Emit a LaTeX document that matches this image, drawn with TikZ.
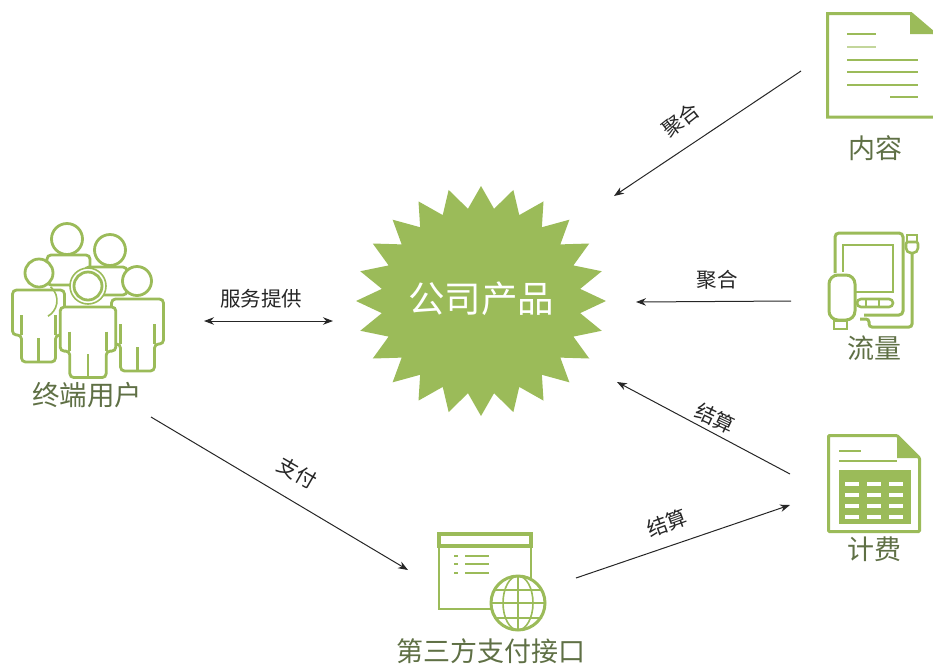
\documentclass[tikz,border=0pt]{standalone}
\usepackage{fontspec}
\setmainfont{Noto Sans CJK SC}
\usetikzlibrary{arrows.meta}
\definecolor{leaf}{HTML}{9BBB59}
\definecolor{leaftext}{HTML}{5F7045}
\tikzset{
    link/.style={-{Stealth[length=10pt,width=7.5pt]}, line width=1pt, black!85},
    linklabel/.style={font=\fontsize{20.5}{21}\selectfont, text=black!85},
    iconlabel/.style={font=\fontsize{27}{28}\selectfont, text=leaftext},
    icon/.style={draw=leaf, line width=3pt},
    thinicon/.style={draw=leaf, line width=1.8pt},
    midicon/.style={draw=leaf, line width=2.6pt},
    personline/.style={draw=leaf, line width=2.8pt},
    person/.pic={
        \filldraw[personline, fill=white, rounded corners=4pt]
            (-26,0) -- (-26,45) -- (-17,45) -- (-17,72) -- (17,72) -- (17,45) -- (26,45) -- (26,0) -- cycle;
        \draw[personline] (-17,25) -- (-17,45) (17,25) -- (17,45) (0,48) -- (0,72);
    },
}
\begin{document}
\begin{tikzpicture}[x=1pt, y=-1pt]
    \useasboundingbox (0,0) rectangle (933,665);

    % Product star
    \fill[leaf] (606,301)
        \foreach \a in {7.5,22.5,...,352.5} {
            -- ({481+100*cos(\a)},{301-93*sin(\a)})
            -- ({481+125*cos(\a+7.5)},{301-115*sin(\a+7.5)})
        } -- cycle;
    \node[text=white, font=\fontsize{36.5}{37}\selectfont] (product) at (481,299) {公司产品};

    % End users
    \filldraw[personline, fill=white, rounded corners=4pt]
        (47,255) -- (47,285) -- (90,285) -- (90,255) -- cycle;
    \filldraw[personline, fill=white] (67,239) circle (15.5);
    \filldraw[personline, fill=white, rounded corners=4pt]
        (85,267) -- (85,295) -- (127,295) -- (127,267) -- cycle;
    \filldraw[personline, fill=white] (110,250) circle (15.5);
    \pic at (38.5,290) {person};
    \filldraw[personline, fill=white] (39,273) circle (14);
    \draw[leaf, line width=1.6pt] (39,273) ++(50:18) arc[start angle=-50, end angle=60, radius=18];
    \pic at (137.5,299) {person};
    \filldraw[personline, fill=white] (137,281) circle (14.5);
    \pic[xscale=1.07, yscale=0.98] at (88,307) {person};
    \filldraw[draw=leaf, line width=1.6pt, fill=white] (88,286) circle (18);
    \filldraw[personline, fill=white] (88,286) circle (14);
    \node[iconlabel, font=\fontsize{27.5}{28}\selectfont] (users) at (87,395) {终端用户};

    % Content document
    \draw[icon] (935,36) -- (935,117) -- (827.5,117) -- (827.5,13.5) -- (911,13.5) -- (935,34);
    \fill[leaf] (910,13) -- (935,34) -- (910,34) -- cycle;
    \foreach \y/\xa/\xb/\op in {34/847/876/1, 47/847/876/0.6, 60/847/918/1, 72/847/918/1, 85/847/918/1, 97/890/918/1}
        \draw[leaf, line width=2.4pt, opacity=\op] (\xa,\y) -- (\xb,\y);
    \node[iconlabel] (content) at (875,148) {内容};

    % Traffic device
    \draw[icon, rounded corners=4pt] (835,273) -- (835,233) -- (903,233) -- (903,315) -- (864,315);
    \draw[midicon] (843,272) -- (843,245) -- (893,245) -- (893,292) -- (856,292);
    \draw[midicon, rounded corners=4pt] (857,299) rectangle (893,307);
    \draw[midicon] (866,299) -- (866,307) (879,299) -- (879,307);
    \draw[icon, rounded corners=3pt] (912,252) -- (912,327) -- (869,327) -- (869,319) -- (860,319);
    \draw[midicon] (907,235) rectangle (917,242);
    \filldraw[midicon, fill=white, rounded corners=2pt] (906,242) -- (906,250) -- (909,253) -- (915,253) -- (918,250) -- (918,242) -- cycle;
    \filldraw[icon, fill=white, rounded corners=9pt] (829,320) -- (829,275) -- (855,275) -- (855,320) -- cycle;
    \draw[midicon] (834,321) rectangle (847,329);
    \node[iconlabel] (traffic) at (874,348) {流量};

    % Billing sheet
    \draw[icon, rounded corners=1pt] (828.5,435.5) -- (897,435.5) -- (919.5,458) -- (919.5,531.5) -- (828.5,531.5) -- cycle;
    \fill[leaf] (897,435) -- (920,458) -- (897,458) -- cycle;
    \draw[leaf, line width=2.2pt] (839,451) -- (861,451) (839,461) -- (897,461);
    \fill[leaf] (839,470) rectangle (911,524);
    \foreach \y in {484,495,506,517}
        \foreach \x in {845,867,889}
            \fill[white] (\x,\y-2) rectangle (\x+14,\y+2);
    \node[iconlabel] (billing) at (874,549) {计费};

    % Payment window
    \draw[thinicon] (439,533) rectangle (531,609);
    \draw[icon, line width=3.2pt] (439,534) rectangle (531,546);
    \foreach \y in {556,564,573} {
        \fill[leaf] (454,\y-1.2) rectangle (458,\y+1.2);
        \fill[leaf] (465,\y-1.2) rectangle (489,\y+1.2);
    }
    \filldraw[icon, fill=white] (518,603) circle (27);
    \draw[leaf, line width=1.6pt] (518,576) -- (518,630) (518,603) ellipse (15 and 27)
        (494,590) -- (542,590) (491,603) -- (545,603) (494,618) -- (542,618);
    \node[iconlabel] (payment) at (491,651) {第三方支付接口};

    % Arrows with free ends
    \coordinate (contentout) at (801,71);
    \coordinate (contentin) at (614,196);
    \coordinate (trafficout) at (791,301);
    \coordinate (trafficin) at (636,302);
    \coordinate (billingout) at (790,474);
    \coordinate (billingin) at (617,382);
    \coordinate (paymentout) at (576,578);
    \coordinate (paymentin) at (790,505);
    \coordinate (usersout) at (151,417);
    \coordinate (usersin) at (408,570);
    \coordinate (serviceleft) at (204,321);
    \coordinate (serviceright) at (333,321);

    \draw[link] (contentout) -- (contentin);
    \draw[link] (trafficout) -- (trafficin);
    \draw[link] (billingout) -- (billingin);
    \draw[link] (paymentout) -- (paymentin);
    \draw[link] (usersout) -- (usersin);
    \draw[link, {Stealth[length=10pt,width=7.5pt]}-{Stealth[length=10pt,width=7.5pt]}] (serviceleft) -- (serviceright);

    \node[linklabel, rotate=38] (mergetop) at (681,120) {聚合};
    \node[linklabel] (mergemid) at (717,280) {聚合};
    \node[linklabel, rotate=-25] (settleup) at (715,418) {结算};
    \node[linklabel, rotate=20] (settledown) at (667,523) {结算};
    \node[linklabel, rotate=-30] (pay) at (297,473) {支付};
    \node[linklabel] (service) at (261,299) {服务提供};
\end{tikzpicture}
\end{document}
